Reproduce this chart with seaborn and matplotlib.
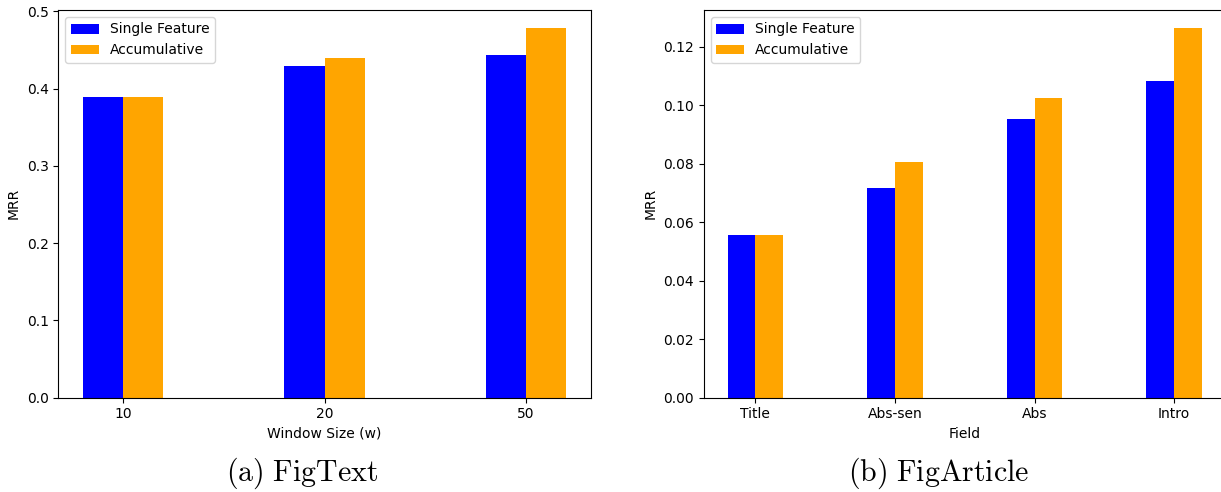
import matplotlib
matplotlib.use("Agg")
import matplotlib.pyplot as plt
import seaborn as sns
import pandas as pd

# Data
series_names = ["Single Feature", "Accumulative"]
window_sizes = ["10", "20", "50"]
figtext_single = [0.389, 0.430, 0.443]
figtext_accum = [0.389, 0.4395, 0.478]

fields = ["Title", "Abs-sen", "Abs", "Intro"]
figarticle_single = [0.0555, 0.0716, 0.0951, 0.1084]
figarticle_accum = [0.0555, 0.0804, 0.1023, 0.1262]

colors = ["#0000ff", "#ffa500"]

plt.rcParams["font.family"] = ["DejaVu Sans"]
plt.rcParams["font.size"] = 10
plt.rcParams["mathtext.fontset"] = "cm"


def make_df(cats, s1, s2):
    rows = []
    for c, v in zip(cats, s1):
        rows.append({"cat": c, "series": series_names[0], "val": v})
    for c, v in zip(cats, s2):
        rows.append({"cat": c, "series": series_names[1], "val": v})
    return pd.DataFrame(rows)


W, H = 1221, 492
fig = plt.figure(figsize=(W / 100, H / 100), dpi=100)

ax1 = fig.add_axes([58.4 / W, (H - 397.7) / H, (590.6 - 58.4) / W, (397.7 - 10) / H])
ax2 = fig.add_axes([703.8 / W, (H - 397.7) / H, (1225.7 - 703.8) / W, (397.7 - 10) / H])

df1 = make_df(window_sizes, figtext_single, figtext_accum)
df2 = make_df(fields, figarticle_single, figarticle_accum)

for ax, df, cats, xlabel in [
    (ax1, df1, window_sizes, "Window Size (w)"),
    (ax2, df2, fields, "Field"),
]:
    sns.barplot(
        data=df, x="cat", y="val", hue="series", order=cats,
        hue_order=series_names, palette=colors, width=0.4,
        saturation=1, linewidth=0, errorbar=None, ax=ax,
    )
    n = len(cats)
    span = (n - 1) + 0.4
    ax.set_xlim(-0.2 - 0.05 * span, n - 1 + 0.2 + 0.05 * span)
    ax.set_ylabel("MRR")
    ax.set_xlabel(xlabel)
    sns.move_legend(ax, "upper left", title=None, fontsize=10)

ax1.set_ylim(0, 0.478 * 1.05)
ax2.set_ylim(0, 0.1262 * 1.05)

fig.text(302 / W, 1 - 481 / H, r"$\mathrm{(a)\ FigText}$", ha="center", va="baseline", fontsize=21.5)
fig.text(938.7 / W, 1 - 481 / H, r"$\mathrm{(b)\ FigArticle}$", ha="center", va="baseline", fontsize=21.5)

fig.savefig("out.png", dpi=100)
